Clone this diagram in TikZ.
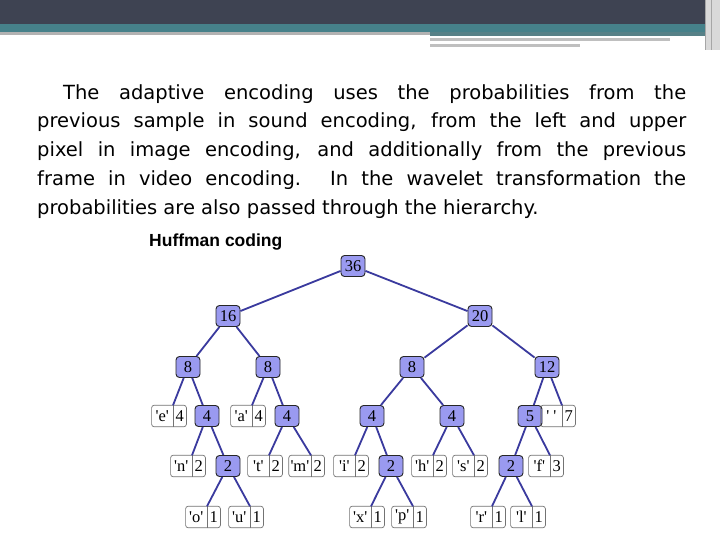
\documentclass[tikz,border=0pt]{standalone}
\usepackage{fontspec}
\setmainfont{Liberation Serif}[Ligatures=TeX]
\newfontfamily\bodyfont{DejaVu Sans}
\newfontfamily\titlefont{Liberation Sans}
\definecolor{hdr}{HTML}{3E4352}
\definecolor{tealb}{HTML}{46818A}
\definecolor{edgec}{HTML}{3A3A9E}
\definecolor{nfill}{HTML}{9A9AF0}
\begin{document}
\begin{tikzpicture}[x=1pt,y=-1pt,
  inode/.style={draw=black!85,line width=0.9pt,fill=nfill,rounded corners=3.5pt,minimum width=24pt,minimum height=21pt,inner sep=1pt,font=\fontsize{16.5}{17}\selectfont},
  lcell/.style={minimum height=21pt,inner sep=1.5pt,font=\fontsize{16.5}{17}\selectfont},
  edge/.style={draw=edgec,line width=1.8pt}]
\useasboundingbox (0,0) rectangle (720,540);
\fill[white] (0,0) rectangle (720,540);
\fill[hdr] (0,0) rectangle (720,24);
\fill[tealb] (0,24) rectangle (720,32);
\fill[gray!60] (0,32) rectangle (430,35);
\fill[tealb!70!gray] (430,32) rectangle (705,36);
\fill[gray!50] (430,38) rectangle (670,41);
\fill[gray!50] (430,44) rectangle (580,47);
\fill[gray!30] (705,0) rectangle (720,50);
\draw[gray!70] (705,0) -- (705,50) (711,0) -- (711,50);
\node[anchor=north west,inner sep=0pt,align=justify,text width=649pt,font=\bodyfont\fontsize{19.5}{28.8}\selectfont] (txt) at (37,84)
{\hspace*{26pt}The adaptive encoding uses the probabilities from the\linebreak previous sample in sound encoding, from the left and upper\linebreak pixel in image encoding, and additionally from the previous\linebreak frame in video encoding. In the wavelet transformation the\linebreak probabilities are also passed through the hierarchy.};
\node[anchor=west,inner sep=0pt,font=\titlefont\bfseries\fontsize{17.5}{18}\selectfont] (title) at (149,242) {Huffman coding};
% internal nodes
\node[inode] (r) at (353,266) {36};
\node[inode] (n16) at (228,316) {16};
\node[inode] (n20) at (480,316) {20};
\node[inode] (a8) at (188,367) {8};
\node[inode] (b8) at (268,367) {8};
\node[inode] (c8) at (412,367) {8};
\node[inode] (n12) at (547,367) {12};
\node[inode] (a4) at (207,416) {4};
\node[inode] (b4) at (287,416) {4};
\node[inode] (c4) at (372,416) {4};
\node[inode] (d4) at (452,416) {4};
\node[inode] (n5) at (530,416) {5};
\node[inode] (a2) at (228,466) {2};
\node[inode] (b2) at (391,466) {2};
\node[inode] (c2) at (511,466) {2};
% leaves
\def\q{\textquotesingle}
\def\mkleaf#1#2#3#4#5{%
  \node[lcell,anchor=east,minimum width=21pt] (#1) at (#2,#3) {\vphantom{\q}#4};
  \node[lcell,anchor=west,minimum width=13pt] (#1n) at (#1.east) {#5};
  \draw[draw=black!55,line width=0.7pt] (#1.north east) -- (#1.south east);
  \draw[draw=black!55,line width=0.7pt,rounded corners=2.5pt] (#1.north west) rectangle (#1n.south east);}
\mkleaf{le}{173}{416}{\q e\q}{4}
\mkleaf{la}{252}{416}{\q a\q}{4}
\mkleaf{lsp}{562}{416}{\q\ \q}{7}
\mkleaf{ln}{192}{466}{\q n\q}{2}
\mkleaf{lt}{269}{466}{\q t\q}{2}
\mkleaf{lm}{311}{466}{\q m\q}{2}
\mkleaf{li}{355}{466}{\q i\q}{2}
\mkleaf{lh}{433}{466}{\q h\q}{2}
\mkleaf{ls}{474}{466}{\q s\q}{2}
\mkleaf{lf}{550}{466}{\q f\q}{3}
\mkleaf{lo}{207}{517}{\q o\q}{1}
\mkleaf{lu}{250}{517}{\q u\q}{1}
\mkleaf{lx}{371}{517}{\q x\q}{1}
\mkleaf{lp}{413}{517}{\q p\q}{1}
\mkleaf{lr}{492}{517}{\q r\q}{1}
\mkleaf{ll}{532}{517}{\q l\q}{1}
% edges
\begin{scope}
\draw[edge] (r) -- (n16) (r) -- (n20);
\draw[edge] (n16) -- (a8) (n16) -- (b8) (n20) -- (c8) (n20) -- (n12);
\draw[edge] (a8) -- (le.north east) (a8) -- (a4);
\draw[edge] (b8) -- (la.north east) (b8) -- (b4);
\draw[edge] (c8) -- (c4) (c8) -- (d4);
\draw[edge] (n12) -- (n5) (n12) -- (lsp.north east);
\draw[edge] (a4) -- (ln.north east) (a4) -- (a2);
\draw[edge] (b4) -- (lt.north east) (b4) -- (lm.north east);
\draw[edge] (c4) -- (li.north east) (c4) -- (b2);
\draw[edge] (d4) -- (lh.north east) (d4) -- (ls.north east);
\draw[edge] (n5) -- (c2) (n5) -- (lf.north east);
\draw[edge] (a2) -- (lo.north east) (a2) -- (lu.north east);
\draw[edge] (b2) -- (lx.north east) (b2) -- (lp.north east);
\draw[edge] (c2) -- (lr.north east) (c2) -- (ll.north east);
\end{scope}
\end{tikzpicture}
\end{document}
